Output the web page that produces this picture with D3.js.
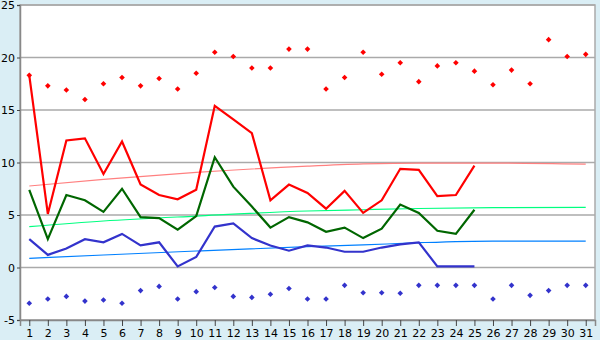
<!DOCTYPE html>
<html>
<head>
<meta charset="utf-8">
<script src="https://cdn.jsdelivr.net/npm/d3@7"></script>
<style>
body { margin: 0; background: #daeef5; }
</style>
</head>
<body>
<div id="chart"></div>
<script>
var days = d3.range(1, 32);
var yTicks = [-5, 0, 5, 10, 15, 20, 25];

var redLine = [18.3, 5.1, 12.1, 12.3, 8.9, 12.0, 7.9, 6.9, 6.5, 7.4, 15.4, 14.1, 12.8, 6.4, 7.9, 7.1, 5.6, 7.3, 5.2, 6.4, 9.4, 9.3, 6.8, 6.9, 9.7];
var greenLine = [7.4, 2.7, 6.9, 6.4, 5.3, 7.5, 4.8, 4.7, 3.6, 4.9, 10.5, 7.7, 5.8, 3.8, 4.8, 4.3, 3.4, 3.8, 2.8, 3.7, 6.0, 5.2, 3.5, 3.2, 5.5];
var blueLine = [2.7, 1.2, 1.8, 2.7, 2.4, 3.2, 2.1, 2.4, 0.1, 1.0, 3.9, 4.2, 2.8, 2.1, 1.6, 2.1, 1.9, 1.5, 1.5, 1.9, 2.2, 2.4, 0.1, 0.1, 0.1];

var redDots = [18.3, 17.3, 16.9, 16.0, 17.5, 18.1, 17.3, 18.0, 17.0, 18.5, 20.5, 20.1, 19.0, 19.0, 20.8, 20.8, 17.0, 18.1, 20.5, 18.4, 19.5, 17.7, 19.2, 19.5, 18.7, 17.4, 18.8, 17.5, 21.7, 20.1, 20.3];
var blueDots = [-3.4, -3.0, -2.75, -3.2, -3.1, -3.4, -2.2, -1.8, -3.0, -2.3, -1.9, -2.75, -2.85, -2.55, -2.0, -3.0, -3.0, -1.7, -2.4, -2.4, -2.45, -1.7, -1.7, -1.7, -1.7, -3.0, -1.7, -2.65, -2.2, -1.7, -1.7];

// trend curves at a few days
var trendDays = [1, 5, 10, 16, 19, 22, 26, 31];
var redTrend = [7.76, 8.4, 9.06, 9.65, 9.86, 9.95, 9.95, 9.85];
var greenTrend = [3.89, 4.43, 4.9, 5.38, 5.5, 5.62, 5.7, 5.73];
var blueTrend = [0.87, 1.19, 1.57, 1.98, 2.15, 2.36, 2.52, 2.52];

var width = 600, height = 340;
var plotLeft = 20, plotRight = 595, plotTop = 5, plotBottom = 320;

var svg = d3.select("#chart").append("svg")
    .attr("width", width)
    .attr("height", height)
    .style("display", "block");

var x = d3.scalePoint()
    .domain(days)
    .range([plotLeft, plotRight])
    .padding(0.5);

var y = d3.scaleLinear()
    .domain([-5, 25])
    .range([plotBottom, plotTop]);

svg.append("rect")
    .attr("x", plotLeft)
    .attr("y", plotTop)
    .attr("width", plotRight - plotLeft)
    .attr("height", plotBottom - plotTop)
    .attr("fill", "#ffffff")
    .attr("stroke", "#aaaaaa")
    .attr("stroke-width", 1.5);

// gridlines
svg.append("g")
    .selectAll("line")
    .data(yTicks)
    .enter()
    .append("line")
    .attr("x1", plotLeft)
    .attr("x2", plotRight)
    .attr("y1", d => y(d))
    .attr("y2", d => y(d))
    .attr("stroke", "#aaaaaa")
    .attr("stroke-width", 1.5);

var yAxis = svg.append("g")
    .attr("transform", "translate(" + plotLeft + ",0)")
    .call(d3.axisLeft(y).tickValues(yTicks).tickSize(3).tickPadding(2)
        .tickFormat(d => String(d)));
var xAxis = svg.append("g")
    .attr("transform", "translate(0," + plotBottom + ")")
    .call(d3.axisBottom(x).tickSize(6).tickPadding(3));

[xAxis, yAxis].forEach(function (g) {
    g.select(".domain").attr("stroke", "#888888").attr("stroke-width", 1.5);
    g.selectAll(".tick line").attr("stroke", "#444444");
    g.selectAll("text")
        .attr("fill", "#000000")
        .attr("font-family", "Verdana, 'DejaVu Sans', sans-serif")
        .attr("font-size", 11);
});

function drawTrend(vals, color) {
    var pts = trendDays.map((d, i) => [d, vals[i]]);
    svg.append("path")
        .datum(pts)
        .attr("fill", "none")
        .attr("stroke", color)
        .attr("stroke-width", 1.2)
        .attr("d", d3.line()
            .x(d => x(d[0]))
            .y(d => y(d[1]))
            .curve(d3.curveMonotoneX));
}
drawTrend(redTrend, "#ff8080");
drawTrend(greenTrend, "#00ff80");
drawTrend(blueTrend, "#0080ff");

function drawLine(vals, color) {
    svg.append("path")
        .datum(vals)
        .attr("fill", "none")
        .attr("stroke", color)
        .attr("stroke-width", 2.2)
        .attr("d", d3.line()
            .x((d, i) => x(days[i]))
            .y(d => y(d)));
}
drawLine(redLine, "#ff0000");
drawLine(greenLine, "#006600");
drawLine(blueLine, "#3333cc");

var diamond = d3.symbol().type(d3.symbolDiamond2).size(20);
function drawDots(vals, color) {
    svg.append("g")
        .selectAll("path")
        .data(vals)
        .enter()
        .append("path")
        .attr("transform", (d, i) => "translate(" + x(days[i]) + "," + y(d) + ")")
        .attr("d", diamond)
        .attr("fill", color);
}
drawDots(redDots, "#ff0000");
drawDots(blueDots, "#3333cc");
</script>
</body>
</html>
